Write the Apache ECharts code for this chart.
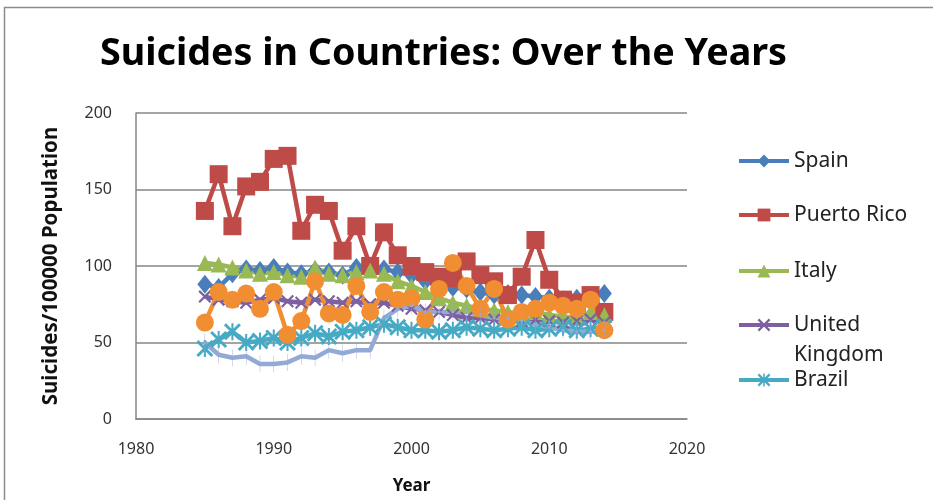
<!DOCTYPE html>
<html><head><meta charset="utf-8">
<script src="https://cdn.jsdelivr.net/npm/echarts@6/dist/echarts.min.js"></script>
<style>html,body{margin:0;padding:0;background:#fff}#c{width:933px;height:500px}</style>
</head><body><div id="c"></div>
<script>
var years = [1985,1986,1987,1988,1989,1990,1991,1992,1993,1994,1995,1996,1997,1998,1999,2000,2001,2002,2003,2004,2005,2006,2007,2008,2009,2010,2011,2012,2013,2014];
var spain = [88,86,95,98,97,99,96,95,97,96,94,99,100,98,96,94,90,88,86,85,83,81,82,81,80,79,78,79,80,82];
var puertoRico = [136,160,126,152,155,170,172,123,140,136,110,126,100,122,107,100,96,93,92,103,94,90,81,93,117,91,78,76,81,70];
var italy = [102,101,99,97,95,96,94,93,99,95,94,96,97,95,90,87,83,79,76,74,72,71,70,69,70,68,67,66,70,68];
var uk = [80,78,77,76,78,79,77,76,78,77,76,77,75,76,74,72,71,70,68,66,66,65,65,64,65,64,63,64,65,63];
var brazil = [46,52,57,50,51,53,50,53,56,54,57,58,60,62,60,58,58,57,58,60,59,58,59,60,58,59,60,58,59,60];
var series6 = [63,83,78,82,72,83,55,64,90,69,68,87,70,83,78,79,65,85,102,87,72,85,65,70,72,76,74,72,78,58];
var series7 = [50,42,40,41,36,36,37,41,40,45,43,45,45,66,72,74,70,70,70,70,68,66,66,64,62,60,58,57,57,58];
var seriesNames = ['Spain','Puerto Rico','Italy','United Kingdom','Brazil','Series6','Series7'];
var xTicks = [1980,1990,2000,2010,2020];
var yTicks = [0,50,100,150,200];

var colors = ['#4A7EBB','#BE4B48','#98B954','#7D60A0','#46AAC5','#F28E32','#93A9D6'];
var X_PATH = 'path://M0,12L12,0L100,88L88,100Z M88,0L100,12L12,100L0,88Z';
var STAR_PATH = 'path://M0,12L12,0L100,88L88,100Z M88,0L100,12L12,100L0,88Z M44,0L56,0L56,100L44,100Z';
var PLUS_PATH = 'path://M43,0L57,0L57,100L43,100Z M0,43L100,43L100,57L0,57Z';
var symbols = ['diamond','rect','triangle',X_PATH,STAR_PATH,'circle',PLUS_PATH];
var sizes = [[15,19],18,16,13,17,18,[3,17]];
var datasets = [spain,puertoRico,italy,uk,brazil,series6,series7];

function pairs(vals){ return years.map(function(y,i){ return [y, vals[i]]; }); }

var series = datasets.map(function(d,i){
  return {
    name: seriesNames[i], type:'line', data: pairs(d),
    symbol: symbols[i], symbolSize: sizes[i],
    lineStyle:{width:4.5,color:colors[i]},
    itemStyle:{color:colors[i]},
    emphasis:{disabled:true}, animation:false
  };
});

var legendCenters = [161,215,271,325,380];
var legends = seriesNames.slice(0,5).map(function(n,i){
  var isUK = n === 'United Kingdom';
  return {
    data:[n], orient:'vertical', left:737, top: isUK ? legendCenters[i]-45 : legendCenters[i]-15,
    padding:0, itemWidth:50, itemHeight:16, itemGap:0, selectedMode:false,
    lineStyle:{width:4},
    formatter: function(name){ return name === 'United Kingdom' ? ' \nUnited\nKingdom' : name; },
    textStyle:{fontFamily:'Noto Sans', fontSize:21, color:'#222', lineHeight:30}
  };
});

var chart = echarts.init(document.getElementById('c'), null, {renderer:'canvas'});
chart.setOption({
  animation:false,
  color: colors,
  title:{text:'Suicides in Countries: Over the Years', left:95, top:30,
    textStyle:{fontFamily:'Noto Sans', fontWeight:'bold', fontSize:37.7, color:'#000'}},
  legend: legends,
  grid:{left:136, right:246, top:113, bottom:78, containLabel:false},
  xAxis:{type:'value', min:xTicks[0], max:xTicks[xTicks.length-1], interval:10,
    name:'Year', nameLocation:'middle', nameGap:59,
    nameTextStyle:{fontFamily:'Noto Sans', fontWeight:'bold', fontSize:17, color:'#111'},
    axisLine:{show:true, lineStyle:{color:'#868686', width:1.5}},
    axisTick:{show:false},
    axisLabel:{margin:22, fontFamily:'Noto Sans', fontSize:16, color:'#333', formatter:function(v){return String(v);}},
    splitLine:{show:false}},
  yAxis:{type:'value', min:yTicks[0], max:yTicks[yTicks.length-1], interval:50,
    name:'Suicides/100000 Population', nameLocation:'middle', nameGap:74, nameRotate:90,
    nameTextStyle:{fontFamily:'Noto Sans', fontWeight:'bold', fontSize:20.5, color:'#111'},
    axisLine:{show:true, lineStyle:{color:'#868686', width:1.5}},
    axisTick:{show:false},
    axisLabel:{margin:24, fontFamily:'Noto Sans', fontSize:16, color:'#333'},
    splitLine:{show:true, lineStyle:{color:'#868686', width:1.5}}},
  graphic:[{type:'rect', shape:{x:4.5, y:7.5, width:1000, height:600}, style:{fill:'none', stroke:'#8c8c8c', lineWidth:1.5}, silent:true, z:-1}],
  series: series
});
</script></body></html>
